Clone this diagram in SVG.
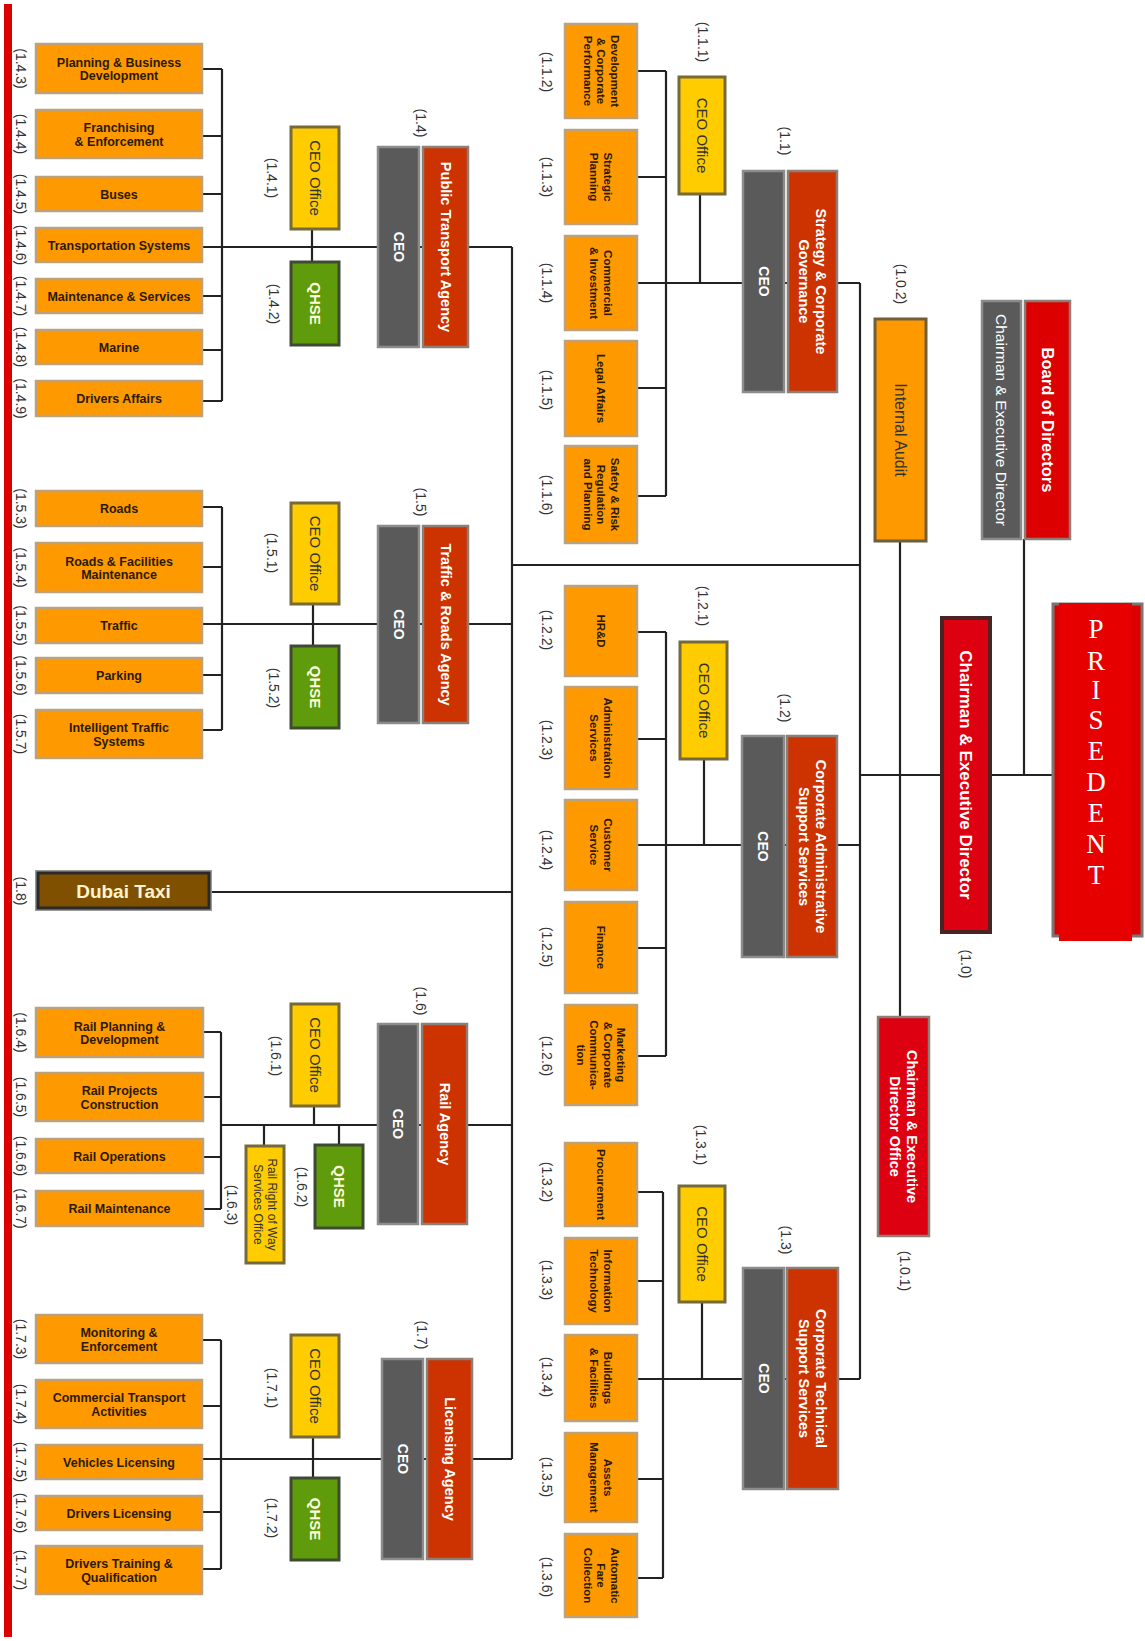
<svg xmlns="http://www.w3.org/2000/svg" width="1145" height="1641" viewBox="0 0 1145 1641">
<style>
.ob{fill:#FF9900;stroke:#BCA27C;stroke-width:2.5}
.ot{font-family:"Liberation Sans",Arial,sans-serif;font-weight:bold;font-size:12.5px;fill:#2B1A00;text-anchor:middle}
.ovt{font-family:"Liberation Sans",Arial,sans-serif;font-weight:bold;font-size:11.5px;fill:#2B1A00;text-anchor:middle}
.lab{font-family:"Liberation Sans",Arial,sans-serif;font-size:14px;fill:#333;text-anchor:middle}
.cob{fill:#FFCC00;stroke:#76693A;stroke-width:3}
.cot{font-family:"Liberation Sans",Arial,sans-serif;font-size:15px;fill:#333;text-anchor:middle}
.qb{fill:#5F9B0B;stroke:#3F4A35;stroke-width:3}
.qt{font-family:"Liberation Sans",Arial,sans-serif;font-weight:bold;font-size:15px;fill:#FFFFD8;text-anchor:middle}
.ceob{fill:#5A5A5A;stroke:#8C8C8C;stroke-width:2.5}
.ceot{font-family:"Liberation Sans",Arial,sans-serif;font-weight:bold;font-size:14px;fill:#fff;text-anchor:middle}
.agb{fill:#CC3300;stroke:#8C7F78;stroke-width:2.5}
.agt{font-family:"Liberation Sans",Arial,sans-serif;font-weight:bold;font-size:14.5px;fill:#fff;text-anchor:middle}
.ln{stroke:#222;stroke-width:2.2;fill:none}
.rw{font-family:"Liberation Sans",Arial,sans-serif;font-size:12px;fill:#333;text-anchor:middle}
</style>
<rect x="0" y="0" width="1145" height="1641" fill="#fff"/>
<rect x="4" y="4" width="8" height="1633" fill="#DD0000"/>

<g id="connectors" class="ln">
<path d="M202 69H222M202 136H222M202 194H222M202 296H222M202 350H222M202 401H222M222 69V401M202 247H512M312 229V262"/>
<path d="M202 507H222M202 567H222M202 675H222M202 730H222M222 507V730M202 624H512M313 604V646"/>
<path d="M212 892H512"/>
<path d="M203 1032H221M203 1097H221M203 1157H221M203 1209H221M221 1032V1209M221 1125H512M314 1106V1125M339 1125V1145M264 1125V1146"/>
<path d="M202 1340H221M202 1406H221M202 1512H221M202 1569H221M221 1340V1569M202 1459H512M313 1437V1478"/>
<path d="M512 247V1459M512 565H860"/>
<path d="M637 71H666M637 177H666M637 388H666M637 496H666M666 71V496M637 283H860M700 194V283"/>
<path d="M636 632H666M636 739H666M636 948H666M636 1056H666M666 632V1056M636 845H860M704 759V845"/>
<path d="M636 1192H663M636 1281H663M636 1479H663M636 1578H663M663 1192V1578M636 1379H860M702 1302V1379"/>
<path d="M860 283V1379M900 541V1017M1024 539V775M860 775H1053"/>
</g>

<!-- Public Transport Agency 1.4 -->
<g id="n1_4_3"><rect class="ob" x="36" y="44" width="166" height="49"/><text class="ot"><tspan x="119" y="66.5">Planning &amp; Business</tspan><tspan x="119" y="80">Development</tspan></text><text class="lab" transform="translate(21 68.5) rotate(90)" y="5">(1.4.3)</text></g>
<g id="n1_4_4"><rect class="ob" x="36" y="110" width="166" height="48"/><text class="ot"><tspan x="119" y="132">Franchising</tspan><tspan x="119" y="145.5">&amp; Enforcement</tspan></text><text class="lab" transform="translate(21 134) rotate(90)" y="5">(1.4.4)</text></g>
<g id="n1_4_5"><rect class="ob" x="36" y="177" width="166" height="34"/><text class="ot" x="119" y="198.5">Buses</text><text class="lab" transform="translate(21 194) rotate(90)" y="5">(1.4.5)</text></g>
<g id="n1_4_6"><rect class="ob" x="36" y="228" width="166" height="34"/><text class="ot" x="119" y="249.5">Transportation Systems</text><text class="lab" transform="translate(21 245) rotate(90)" y="5">(1.4.6)</text></g>
<g id="n1_4_7"><rect class="ob" x="36" y="279" width="166" height="34"/><text class="ot" x="119" y="300.5">Maintenance &amp; Services</text><text class="lab" transform="translate(21 296) rotate(90)" y="5">(1.4.7)</text></g>
<g id="n1_4_8"><rect class="ob" x="36" y="330" width="166" height="34"/><text class="ot" x="119" y="351.5">Marine</text><text class="lab" transform="translate(21 347) rotate(90)" y="5">(1.4.8)</text></g>
<g id="n1_4_9"><rect class="ob" x="36" y="381" width="166" height="35"/><text class="ot" x="119" y="403">Drivers Affairs</text><text class="lab" transform="translate(21 398.5) rotate(90)" y="5">(1.4.9)</text></g>
<g id="n1_4_1"><rect class="cob" x="291" y="127" width="48" height="102"/><text class="cot" transform="translate(315 178) rotate(90)" y="5">CEO Office</text><text class="lab" transform="translate(272 178) rotate(90)" y="5">(1.4.1)</text></g>
<g id="n1_4_2"><rect class="qb" x="291" y="262" width="48" height="83"/><text class="qt" transform="translate(315 303.5) rotate(90)" y="5">QHSE</text><text class="lab" transform="translate(274 304) rotate(90)" y="5">(1.4.2)</text></g>
<g id="n1_4_ceo"><rect class="ceob" x="378" y="147" width="41" height="200"/><text class="ceot" transform="translate(398.5 247) rotate(90)" y="5">CEO</text></g>
<g id="n1_4"><rect class="agb" x="423" y="147" width="45" height="200"/><text class="agt" transform="translate(445.5 247) rotate(90)" y="5">Public Transport Agency</text><text class="lab" transform="translate(421 123) rotate(90)" y="5">(1.4)</text></g>

<!-- Traffic & Roads Agency 1.5 -->
<g id="n1_5_3"><rect class="ob" x="36" y="491" width="166" height="35"/><text class="ot" x="119" y="513">Roads</text><text class="lab" transform="translate(21 508.5) rotate(90)" y="5">(1.5.3)</text></g>
<g id="n1_5_4"><rect class="ob" x="36" y="543" width="166" height="49"/><text class="ot"><tspan x="119" y="565.5">Roads &amp; Facilities</tspan><tspan x="119" y="579">Maintenance</tspan></text><text class="lab" transform="translate(21 567.5) rotate(90)" y="5">(1.5.4)</text></g>
<g id="n1_5_5"><rect class="ob" x="36" y="608" width="166" height="35"/><text class="ot" x="119" y="630">Traffic</text><text class="lab" transform="translate(21 625.5) rotate(90)" y="5">(1.5.5)</text></g>
<g id="n1_5_6"><rect class="ob" x="36" y="658" width="166" height="35"/><text class="ot" x="119" y="680">Parking</text><text class="lab" transform="translate(21 675.5) rotate(90)" y="5">(1.5.6)</text></g>
<g id="n1_5_7"><rect class="ob" x="36" y="710" width="166" height="48"/><text class="ot"><tspan x="119" y="732">Intelligent Traffic</tspan><tspan x="119" y="745.5">Systems</tspan></text><text class="lab" transform="translate(21 734) rotate(90)" y="5">(1.5.7)</text></g>
<g id="n1_5_1"><rect class="cob" x="291" y="503" width="48" height="101"/><text class="cot" transform="translate(315 553.5) rotate(90)" y="5">CEO Office</text><text class="lab" transform="translate(272 553) rotate(90)" y="5">(1.5.1)</text></g>
<g id="n1_5_2"><rect class="qb" x="291" y="646" width="48" height="82"/><text class="qt" transform="translate(315 687) rotate(90)" y="5">QHSE</text><text class="lab" transform="translate(274 688) rotate(90)" y="5">(1.5.2)</text></g>
<g id="n1_5_ceo"><rect class="ceob" x="378" y="526" width="41" height="197"/><text class="ceot" transform="translate(398.5 624.5) rotate(90)" y="5">CEO</text></g>
<g id="n1_5"><rect class="agb" x="423" y="526" width="45" height="197"/><text class="agt" transform="translate(445.5 624.5) rotate(90)" y="5">Traffic &amp; Roads Agency</text><text class="lab" transform="translate(421 502) rotate(90)" y="5">(1.5)</text></g>

<!-- Dubai Taxi 1.8 -->
<g id="n1_8"><rect x="35" y="870" width="177" height="41" fill="#999"/><rect x="38" y="873" width="171" height="35" fill="#7F5000" stroke="#2A2A2A" stroke-width="3"/><text x="123.5" y="897.5" font-family="Liberation Sans, Arial, sans-serif" font-weight="bold" font-size="19" fill="#FFF3D0" text-anchor="middle">Dubai Taxi</text><text class="lab" transform="translate(21 891) rotate(90)" y="5">(1.8)</text></g>

<!-- Rail Agency 1.6 -->
<g id="n1_6_4"><rect class="ob" x="36" y="1008" width="167" height="49"/><text class="ot"><tspan x="119.5" y="1030.5">Rail Planning &amp;</tspan><tspan x="119.5" y="1044">Development</tspan></text><text class="lab" transform="translate(21 1032.5) rotate(90)" y="5">(1.6.4)</text></g>
<g id="n1_6_5"><rect class="ob" x="36" y="1073" width="167" height="48"/><text class="ot"><tspan x="119.5" y="1095">Rail Projects</tspan><tspan x="119.5" y="1108.5">Construction</tspan></text><text class="lab" transform="translate(21 1097) rotate(90)" y="5">(1.6.5)</text></g>
<g id="n1_6_6"><rect class="ob" x="36" y="1139" width="167" height="34"/><text class="ot" x="119.5" y="1160.5">Rail Operations</text><text class="lab" transform="translate(21 1156) rotate(90)" y="5">(1.6.6)</text></g>
<g id="n1_6_7"><rect class="ob" x="36" y="1191" width="167" height="35"/><text class="ot" x="119.5" y="1213">Rail Maintenance</text><text class="lab" transform="translate(21 1208.5) rotate(90)" y="5">(1.6.7)</text></g>
<g id="n1_6_1"><rect class="cob" x="291" y="1004" width="48" height="102"/><text class="cot" transform="translate(315 1055) rotate(90)" y="5">CEO Office</text><text class="lab" transform="translate(276 1056) rotate(90)" y="5">(1.6.1)</text></g>
<g id="n1_6_2"><rect class="qb" x="315" y="1145" width="48" height="83"/><text class="qt" transform="translate(339 1186.5) rotate(90)" y="5">QHSE</text><text class="lab" transform="translate(302 1187) rotate(90)" y="5">(1.6.2)</text></g>
<g id="n1_6_3"><rect class="cob" x="246" y="1146" width="38" height="117"/><text class="rw" transform="translate(265 1204.5) rotate(90)"><tspan x="0" y="-2.8">Rail Right of Way</tspan><tspan x="0" y="11.2">Services Office</tspan></text><text class="lab" transform="translate(232 1205) rotate(90)" y="5">(1.6.3)</text></g>
<g id="n1_6_ceo"><rect class="ceob" x="378" y="1024" width="40" height="200"/><text class="ceot" transform="translate(398 1124) rotate(90)" y="5">CEO</text></g>
<g id="n1_6"><rect class="agb" x="422" y="1024" width="45" height="200"/><text class="agt" transform="translate(444.5 1124) rotate(90)" y="5">Rail Agency</text><text class="lab" transform="translate(421 1001) rotate(90)" y="5">(1.6)</text></g>

<!-- Licensing Agency 1.7 -->
<g id="n1_7_3"><rect class="ob" x="36" y="1315" width="166" height="48"/><text class="ot"><tspan x="119" y="1337">Monitoring &amp;</tspan><tspan x="119" y="1350.5">Enforcement</tspan></text><text class="lab" transform="translate(21 1339) rotate(90)" y="5">(1.7.3)</text></g>
<g id="n1_7_4"><rect class="ob" x="36" y="1380" width="166" height="48"/><text class="ot"><tspan x="119" y="1402">Commercial Transport</tspan><tspan x="119" y="1415.5">Activities</tspan></text><text class="lab" transform="translate(21 1404) rotate(90)" y="5">(1.7.4)</text></g>
<g id="n1_7_5"><rect class="ob" x="36" y="1445" width="166" height="34"/><text class="ot" x="119" y="1466.5">Vehicles Licensing</text><text class="lab" transform="translate(21 1462) rotate(90)" y="5">(1.7.5)</text></g>
<g id="n1_7_6"><rect class="ob" x="36" y="1496" width="166" height="34"/><text class="ot" x="119" y="1517.5">Drivers Licensing</text><text class="lab" transform="translate(21 1513) rotate(90)" y="5">(1.7.6)</text></g>
<g id="n1_7_7"><rect class="ob" x="36" y="1546" width="166" height="48"/><text class="ot"><tspan x="119" y="1568">Drivers Training &amp;</tspan><tspan x="119" y="1581.5">Qualification</tspan></text><text class="lab" transform="translate(21 1570) rotate(90)" y="5">(1.7.7)</text></g>
<g id="n1_7_1"><rect class="cob" x="291" y="1335" width="48" height="102"/><text class="cot" transform="translate(315 1386) rotate(90)" y="5">CEO Office</text><text class="lab" transform="translate(272 1388) rotate(90)" y="5">(1.7.1)</text></g>
<g id="n1_7_2"><rect class="qb" x="291" y="1478" width="48" height="82"/><text class="qt" transform="translate(315 1519) rotate(90)" y="5">QHSE</text><text class="lab" transform="translate(272 1518) rotate(90)" y="5">(1.7.2)</text></g>
<g id="n1_7_ceo"><rect class="ceob" x="382" y="1359" width="41" height="200"/><text class="ceot" transform="translate(402.5 1459) rotate(90)" y="5">CEO</text></g>
<g id="n1_7"><rect class="agb" x="427" y="1359" width="45" height="200"/><text class="agt" transform="translate(449.5 1459) rotate(90)" y="5">Licensing Agency</text><text class="lab" transform="translate(422 1335) rotate(90)" y="5">(1.7)</text></g>

<!-- Strategy & Corporate Governance 1.1 -->
<g id="n1_1_2"><rect class="ob" x="565" y="24" width="72" height="94"/><text class="ovt" transform="translate(601 71) rotate(90)"><tspan x="0" y="-9.5">Development</tspan><tspan x="0" y="4">&amp; Corporate</tspan><tspan x="0" y="17.5">Performance</tspan></text><text class="lab" transform="translate(547 72) rotate(90)" y="5">(1.1.2)</text></g>
<g id="n1_1_3"><rect class="ob" x="565" y="130" width="72" height="94"/><text class="ovt" transform="translate(601 177) rotate(90)"><tspan x="0" y="-2.75">Strategic</tspan><tspan x="0" y="10.75">Planning</tspan></text><text class="lab" transform="translate(547 177) rotate(90)" y="5">(1.1.3)</text></g>
<g id="n1_1_4"><rect class="ob" x="565" y="236" width="72" height="94"/><text class="ovt" transform="translate(601 283) rotate(90)"><tspan x="0" y="-2.75">Commercial</tspan><tspan x="0" y="10.75">&amp; Investment</tspan></text><text class="lab" transform="translate(547 283) rotate(90)" y="5">(1.1.4)</text></g>
<g id="n1_1_5"><rect class="ob" x="565" y="341" width="72" height="95"/><text class="ovt" transform="translate(601 388.5) rotate(90)" y="4">Legal Affairs</text><text class="lab" transform="translate(547 390) rotate(90)" y="5">(1.1.5)</text></g>
<g id="n1_1_6"><rect class="ob" x="565" y="446" width="72" height="97"/><text class="ovt" transform="translate(601 494.5) rotate(90)"><tspan x="0" y="-9.5">Safety &amp; Risk</tspan><tspan x="0" y="4">Regulation</tspan><tspan x="0" y="17.5">and Planning</tspan></text><text class="lab" transform="translate(547 495) rotate(90)" y="5">(1.1.6)</text></g>
<g id="n1_1_1"><rect class="cob" x="679" y="77" width="46" height="117"/><text class="cot" transform="translate(702 135.5) rotate(90)" y="5">CEO Office</text><text class="lab" transform="translate(703 42) rotate(90)" y="5">(1.1.1)</text></g>
<g id="n1_1_ceo"><rect class="ceob" x="743" y="171" width="41" height="221"/><text class="ceot" transform="translate(763.5 281.5) rotate(90)" y="5">CEO</text></g>
<g id="n1_1"><rect class="agb" x="788" y="171" width="49" height="221"/><text class="agt" transform="translate(812.5 281.5) rotate(90)"><tspan x="0" y="-3.5">Strategy &amp; Corporate</tspan><tspan x="0" y="13.5">Governance</tspan></text><text class="lab" transform="translate(785 141) rotate(90)" y="5">(1.1)</text></g>

<!-- Corporate Administrative Support Services 1.2 -->
<g id="n1_2_2"><rect class="ob" x="565" y="586" width="72" height="90"/><text class="ovt" transform="translate(601 631) rotate(90)" y="4">HR&amp;D</text><text class="lab" transform="translate(547 630) rotate(90)" y="5">(1.2.2)</text></g>
<g id="n1_2_3"><rect class="ob" x="565" y="687" width="72" height="102"/><text class="ovt" transform="translate(601 738) rotate(90)"><tspan x="0" y="-2.75">Administration</tspan><tspan x="0" y="10.75">Services</tspan></text><text class="lab" transform="translate(547 740) rotate(90)" y="5">(1.2.3)</text></g>
<g id="n1_2_4"><rect class="ob" x="565" y="800" width="72" height="90"/><text class="ovt" transform="translate(601 845) rotate(90)"><tspan x="0" y="-2.75">Customer</tspan><tspan x="0" y="10.75">Service</tspan></text><text class="lab" transform="translate(547 850) rotate(90)" y="5">(1.2.4)</text></g>
<g id="n1_2_5"><rect class="ob" x="565" y="902" width="72" height="91"/><text class="ovt" transform="translate(601 947.5) rotate(90)" y="4">Finance</text><text class="lab" transform="translate(547 947) rotate(90)" y="5">(1.2.5)</text></g>
<g id="n1_2_6"><rect class="ob" x="565" y="1005" width="72" height="100"/><text class="ovt" transform="translate(601 1055) rotate(90)"><tspan x="0" y="-16.25">Marketing</tspan><tspan x="0" y="-2.75">&amp; Corporate</tspan><tspan x="0" y="10.75">Communica-</tspan><tspan x="0" y="24.25">tion</tspan></text><text class="lab" transform="translate(547 1056) rotate(90)" y="5">(1.2.6)</text></g>
<g id="n1_2_1"><rect class="cob" x="680" y="642" width="47" height="117"/><text class="cot" transform="translate(703.5 700.5) rotate(90)" y="5">CEO Office</text><text class="lab" transform="translate(703 606) rotate(90)" y="5">(1.2.1)</text></g>
<g id="n1_2_ceo"><rect class="ceob" x="742" y="736" width="42" height="221"/><text class="ceot" transform="translate(763 846.5) rotate(90)" y="5">CEO</text></g>
<g id="n1_2"><rect class="agb" x="787" y="736" width="50" height="221"/><text class="agt" transform="translate(812 846.5) rotate(90)"><tspan x="0" y="-3.5">Corporate Administrative</tspan><tspan x="0" y="13.5">Support Services</tspan></text><text class="lab" transform="translate(785 708) rotate(90)" y="5">(1.2)</text></g>

<!-- Corporate Technical Support Services 1.3 -->
<g id="n1_3_2"><rect class="ob" x="565" y="1143" width="72" height="83"/><text class="ovt" transform="translate(601 1184.5) rotate(90)" y="4">Procurement</text><text class="lab" transform="translate(547 1182) rotate(90)" y="5">(1.3.2)</text></g>
<g id="n1_3_3"><rect class="ob" x="565" y="1238" width="72" height="86"/><text class="ovt" transform="translate(601 1281) rotate(90)"><tspan x="0" y="-2.75">Information</tspan><tspan x="0" y="10.75">Technology</tspan></text><text class="lab" transform="translate(547 1280) rotate(90)" y="5">(1.3.3)</text></g>
<g id="n1_3_4"><rect class="ob" x="565" y="1335" width="72" height="86"/><text class="ovt" transform="translate(601 1378) rotate(90)"><tspan x="0" y="-2.75">Buildings</tspan><tspan x="0" y="10.75">&amp; Facilities</tspan></text><text class="lab" transform="translate(547 1377) rotate(90)" y="5">(1.3.4)</text></g>
<g id="n1_3_5"><rect class="ob" x="565" y="1433" width="72" height="89"/><text class="ovt" transform="translate(601 1477.5) rotate(90)"><tspan x="0" y="-2.75">Assets</tspan><tspan x="0" y="10.75">Management</tspan></text><text class="lab" transform="translate(547 1477) rotate(90)" y="5">(1.3.5)</text></g>
<g id="n1_3_6"><rect class="ob" x="565" y="1534" width="72" height="83"/><text class="ovt" transform="translate(601 1575.5) rotate(90)"><tspan x="0" y="-9.5">Automatic</tspan><tspan x="0" y="4">Fare</tspan><tspan x="0" y="17.5">Collection</tspan></text><text class="lab" transform="translate(547 1577) rotate(90)" y="5">(1.3.6)</text></g>
<g id="n1_3_1"><rect class="cob" x="679" y="1186" width="46" height="116"/><text class="cot" transform="translate(702 1244) rotate(90)" y="5">CEO Office</text><text class="lab" transform="translate(701 1145) rotate(90)" y="5">(1.3.1)</text></g>
<g id="n1_3_ceo"><rect class="ceob" x="743" y="1268" width="41" height="221"/><text class="ceot" transform="translate(763.5 1378.5) rotate(90)" y="5">CEO</text></g>
<g id="n1_3"><rect class="agb" x="787" y="1268" width="51" height="221"/><text class="agt" transform="translate(812.5 1378.5) rotate(90)"><tspan x="0" y="-3.5">Corporate Technical</tspan><tspan x="0" y="13.5">Support Services</tspan></text><text class="lab" transform="translate(786 1240) rotate(90)" y="5">(1.3)</text></g>

<!-- Top level -->
<g id="n1_0_2"><rect x="875" y="319" width="51" height="222" fill="#FF9900" stroke="#6E5E3A" stroke-width="3"/><text transform="translate(900.5 430) rotate(90)" y="5.5" font-family="Liberation Sans, Arial, sans-serif" font-size="16" fill="#333" text-anchor="middle">Internal Audit</text><text class="lab" transform="translate(901 284) rotate(90)" y="5">(1.0.2)</text></g>
<g id="board_chair"><rect class="ceob" x="982" y="301" width="39" height="238"/><text transform="translate(1001.5 420) rotate(90)" y="5.5" font-family="Liberation Sans, Arial, sans-serif" font-size="15.5" fill="#fff" text-anchor="middle">Chairman &amp; Executive Director</text></g>
<g id="board"><rect x="1025" y="301" width="45" height="238" fill="#DD0000" stroke="#8C7F78" stroke-width="2.5"/><text transform="translate(1047.5 420) rotate(90)" y="6" font-family="Liberation Sans, Arial, sans-serif" font-weight="bold" font-size="16.5" fill="#fff" text-anchor="middle">Board of Directors</text></g>
<g id="n1_0"><rect x="942" y="618" width="48" height="314" fill="#DD0011" stroke="#4A2424" stroke-width="4"/><text transform="translate(966 775) rotate(90)" y="6" font-family="Liberation Sans, Arial, sans-serif" font-weight="bold" font-size="17" fill="#fff" text-anchor="middle">Chairman &amp; Executive Director</text><text class="lab" transform="translate(966 964) rotate(90)" y="5">(1.0)</text></g>
<g id="n1_0_1"><rect x="878" y="1017" width="51" height="219" fill="#DD0011" stroke="#8C7F78" stroke-width="2.5"/><text class="agt" transform="translate(903.5 1126.5) rotate(90)"><tspan x="0" y="-3.5">Chairman &amp; Executive</tspan><tspan x="0" y="13.5">Director Office</tspan></text><text class="lab" transform="translate(905 1271) rotate(90)" y="5">(1.0.1)</text></g>
<g id="president"><rect x="1053" y="604" width="89" height="332" fill="#DD0000" stroke="#777" stroke-width="3"/><rect x="1059" y="603" width="73" height="338" fill="#E60000"/><text font-family="Liberation Serif, Times New Roman, serif" font-size="27" fill="#fff" text-anchor="middle"><tspan x="1096" y="638">P</tspan><tspan x="1096" y="670">R</tspan><tspan x="1096" y="699">I</tspan><tspan x="1096" y="729">S</tspan><tspan x="1096" y="760">E</tspan><tspan x="1096" y="791">D</tspan><tspan x="1096" y="822">E</tspan><tspan x="1096" y="853">N</tspan><tspan x="1096" y="884">T</tspan></text></g>
</svg>
